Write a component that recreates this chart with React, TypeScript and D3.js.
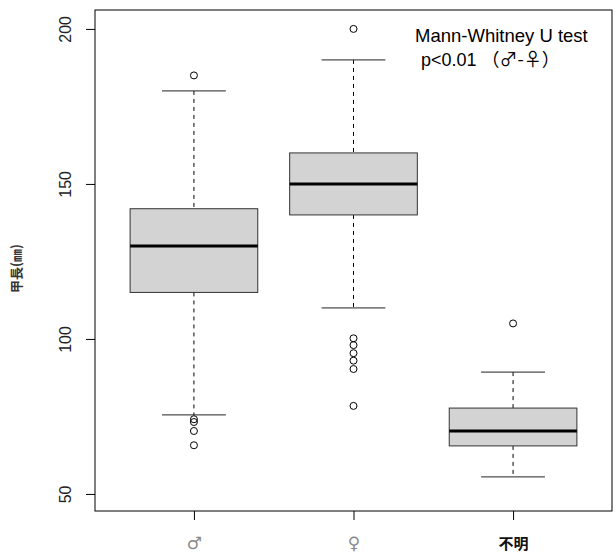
import { useEffect, useRef } from 'react';
import * as d3 from 'd3';

// groups on the x axis
const categories = ['♂', '♀', '不明'];
// five-number summaries
const lowerWhisker = [75.5, 110, 55.5];
const q1 = [115, 140, 65.5];
const medians = [130, 150, 70.3];
const q3 = [142, 160, 77.7];
const upperWhisker = [180, 190, 89.3];
// points beyond the whiskers
const outliers = [
  [185, 74.1, 73.2, 70.3, 65.7],
  [200, 100.2, 98, 95.4, 93, 90.3, 78.4],
  [105],
];
const yTicks = [50, 100, 150, 200];
const yLabel = '甲長(㎜)';
const noteTitle = 'Mann-Whitney U test';
const noteP = 'p<0.01 ';
const noteGroups = '（♂-♀）';

const App = () => {
  const chartRef = useRef<SVGSVGElement>(null);

  useEffect(() => {
    document.body.style.margin = '0';
    const svg = d3.select(chartRef.current);
    svg.selectAll('*').remove();

    const left = 95;
    const right = 612;
    const top = 10;
    const bottom = 511;

    // R style 4% padding around 0.5..3.5
    const x = d3.scaleLinear().domain([0.38, 3.62]).range([left, right]);
    const y = d3.scaleLinear().domain([206.1, 44.5]).range([top, bottom]);
    const unit = x(1) - x(0);
    const boxW = unit * 0.8;
    const capW = boxW * 0.5;

    const data = categories.map((c, i) => ({
      name: c,
      pos: i + 1,
      lo: lowerWhisker[i],
      q1: q1[i],
      med: medians[i],
      q3: q3[i],
      hi: upperWhisker[i],
      out: outliers[i],
    }));

    const g = svg.append('g');

    const groups = g.selectAll('.box')
      .data(data)
      .enter().append('g')
      .attr('class', 'box');

    // dashed whiskers
    groups.append('line')
      .attr('x1', d => x(d.pos)).attr('x2', d => x(d.pos))
      .attr('y1', d => y(d.hi)).attr('y2', d => y(d.q3))
      .attr('stroke', '#000').attr('stroke-dasharray', '4,4');
    groups.append('line')
      .attr('x1', d => x(d.pos)).attr('x2', d => x(d.pos))
      .attr('y1', d => y(d.q1)).attr('y2', d => y(d.lo))
      .attr('stroke', '#000').attr('stroke-dasharray', '4,4');

    // whisker caps
    groups.append('line')
      .attr('x1', d => x(d.pos) - capW / 2).attr('x2', d => x(d.pos) + capW / 2)
      .attr('y1', d => y(d.hi)).attr('y2', d => y(d.hi))
      .attr('stroke', '#222');
    groups.append('line')
      .attr('x1', d => x(d.pos) - capW / 2).attr('x2', d => x(d.pos) + capW / 2)
      .attr('y1', d => y(d.lo)).attr('y2', d => y(d.lo))
      .attr('stroke', '#222');

    // boxes
    groups.append('rect')
      .attr('x', d => x(d.pos) - boxW / 2)
      .attr('width', boxW)
      .attr('y', d => y(d.q3))
      .attr('height', d => y(d.q1) - y(d.q3))
      .attr('fill', '#d3d3d3')
      .attr('stroke', '#333');

    // medians
    groups.append('line')
      .attr('x1', d => x(d.pos) - boxW / 2).attr('x2', d => x(d.pos) + boxW / 2)
      .attr('y1', d => y(d.med)).attr('y2', d => y(d.med))
      .attr('stroke', '#000').attr('stroke-width', 3);

    // outliers
    groups.selectAll('circle')
      .data(d => d.out.map(v => ({ pos: d.pos, v })))
      .enter().append('circle')
      .attr('cx', d => x(d.pos))
      .attr('cy', d => y(d.v))
      .attr('r', 3.5)
      .attr('fill', 'none')
      .attr('stroke', '#000');

    // frame
    g.append('rect')
      .attr('x', left).attr('y', top)
      .attr('width', right - left).attr('height', bottom - top)
      .attr('fill', 'none').attr('stroke', '#000');

    // y axis
    const yAxis = g.append('g').attr('transform', `translate(${left},0)`)
      .call(d3.axisLeft(y).tickValues(yTicks).tickSize(9).tickPadding(0));
    yAxis.select('.domain').remove();
    yAxis.selectAll('text')
      .attr('x', null).attr('dy', null)
      .attr('transform', 'translate(-30,0) rotate(-90)')
      .attr('text-anchor', 'middle')
      .attr('dominant-baseline', 'central')
      .attr('font-family', 'Liberation Sans, Arial, sans-serif')
      .attr('font-size', 16)
      .attr('fill', '#222');

    // x axis
    const xAxis = g.append('g').attr('transform', `translate(0,${bottom})`)
      .call(d3.axisBottom(x).tickValues([1, 2, 3]).tickSize(9)
        .tickFormat((d) => categories[(d as number) - 1]));
    xAxis.select('.domain').remove();
    xAxis.selectAll('text')
      .attr('y', 38).attr('dy', null)
      .attr('font-family', (_d, i) => (i === 2 ? 'Noto Sans CJK JP, sans-serif' : 'DejaVu Sans, sans-serif'))
      .attr('font-size', (_d, i) => (i === 2 ? 15 : 17))
      .attr('font-weight', (_d, i) => (i === 2 ? 'bold' : 'normal'))
      .attr('fill', (_d, i) => (i === 2 ? '#111' : '#888'));

    // y label
    svg.append('text')
      .attr('transform', `translate(15,${(top + bottom) / 2 + 8}) rotate(-90)`)
      .attr('text-anchor', 'middle')
      .attr('dominant-baseline', 'central')
      .attr('font-family', 'Noto Sans CJK JP, sans-serif')
      .attr('font-size', 13)
      .attr('font-weight', 'bold')
      .attr('fill', '#333')
      .text(yLabel);

    // test annotation
    svg.append('text')
      .attr('x', 415).attr('y', 42)
      .attr('font-family', 'Liberation Sans, sans-serif')
      .attr('font-size', 18.5)
      .attr('fill', '#000')
      .text(noteTitle);

    const pLine = svg.append('text')
      .attr('x', 421).attr('y', 66)
      .attr('font-size', 18)
      .attr('fill', '#000');
    pLine.append('tspan')
      .attr('font-family', 'Liberation Sans, sans-serif')
      .text(noteP);
    pLine.append('tspan')
      .attr('font-family', 'Noto Sans CJK JP, sans-serif')
      .text(noteGroups);
  }, []);

  return <svg ref={chartRef} width={616} height={552} style={{ display: 'block' }} />;
};

export default App;
